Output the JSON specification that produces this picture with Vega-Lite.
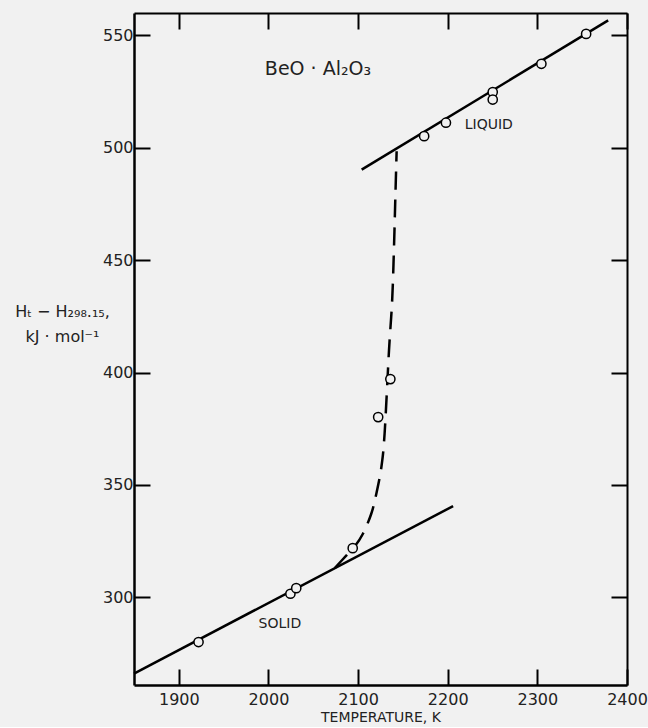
{
  "$schema": "https://vega.github.io/schema/vega-lite/v6.json",
  "width": 493,
  "height": 672,
  "padding": {"left": 14, "top": 12, "right": 2, "bottom": 3},
  "background": "#f1f1f1",
  "config": {"view": {"stroke": null}, "font": "DejaVu Sans"},
  "datasets": {
    "lines": [
      {"series": "solid", "T": 1850, "H": 266.1},
      {"series": "solid", "T": 2206, "H": 340.6},
      {"series": "liquid", "T": 2104, "H": 490.3},
      {"series": "liquid", "T": 2379, "H": 556.7}
    ],
    "dash": [
      {"i": 1, "T": 2074, "H": 313},
      {"i": 2, "T": 2087, "H": 318.7},
      {"i": 3, "T": 2096, "H": 322.5},
      {"i": 4, "T": 2105.4, "H": 328.3},
      {"i": 5, "T": 2114.7, "H": 337.2},
      {"i": 6, "T": 2120.3, "H": 346},
      {"i": 7, "T": 2126, "H": 358},
      {"i": 8, "T": 2129.6, "H": 373},
      {"i": 9, "T": 2134.5, "H": 410},
      {"i": 10, "T": 2138, "H": 432},
      {"i": 11, "T": 2140, "H": 455},
      {"i": 12, "T": 2141.5, "H": 477},
      {"i": 13, "T": 2143, "H": 498.5}
    ],
    "pts": [
      {"T": 1922, "H": 280.1},
      {"T": 2024.5, "H": 301.6},
      {"T": 2031, "H": 304.1},
      {"T": 2094, "H": 321.9},
      {"T": 2122.4, "H": 380.2},
      {"T": 2136, "H": 397.1},
      {"T": 2173.7, "H": 505.2},
      {"T": 2198, "H": 511.2},
      {"T": 2250.2, "H": 524.8},
      {"T": 2250.2, "H": 521.5},
      {"T": 2304.5, "H": 537.4},
      {"T": 2354.4, "H": 550.7}
    ],
    "labels": [
      {"T": 2219, "H": 510, "text": "LIQUID"},
      {"T": 1989, "H": 288.3, "text": "SOLID"}
    ],
    "title": [
      {"T": 1996, "H": 535.3, "text": "BeO · Al₂O₃"}
    ]
  },
  "layer": [
    {
      "data": {"name": "lines"},
      "mark": {"type": "line", "color": "black", "strokeWidth": 2.5},
      "encoding": {
        "x": {
          "field": "T", "type": "quantitative",
          "scale": {"domain": [1850, 2400], "nice": false, "zero": false},
          "axis": {
            "orient": "bottom",
            "values": [1900, 2000, 2100, 2200, 2300, 2400],
            "format": "d",
            "grid": false,
            "domainColor": "black", "domainWidth": 2.5,
            "tickColor": "black", "tickWidth": 2, "tickSize": -16,
            "labelPadding": 22, "labelFontSize": 16, "labelColor": "#222",
            "labelFlush": false,
            "title": "TEMPERATURE, K",
            "titleFontSize": 14, "titleFontWeight": "normal", "titleColor": "#222",
            "titlePadding": 3
          }
        },
        "y": {
          "field": "H", "type": "quantitative",
          "scale": {"domain": [261, 560], "nice": false, "zero": false},
          "axis": {
            "orient": "left",
            "values": [300, 350, 400, 450, 500, 550],
            "grid": false,
            "domainColor": "black", "domainWidth": 2.5,
            "tickColor": "black", "tickWidth": 2, "tickSize": -16,
            "labelPadding": 17, "labelFontSize": 16, "labelColor": "#222",
            "labelFlush": false,
            "title": ["Hₜ − H₂₉₈.₁₅,", "kJ · mol⁻¹"],
            "titleAngle": 0, "titleAlign": "center", "titleBaseline": "top",
            "titleX": -72, "titleY": 290, "titleLineHeight": 25,
            "titleFontSize": 16, "titleFontWeight": "normal", "titleColor": "#222"
          }
        },
        "detail": {"field": "series"}
      }
    },
    {
      "data": {"name": "dash"},
      "mark": {"type": "line", "color": "black", "strokeWidth": 2.5, "strokeDash": [18, 10], "interpolate": "cardinal"},
      "encoding": {
        "x": {
          "field": "T", "type": "quantitative",
          "axis": {
            "orient": "top",
            "values": [1900, 2000, 2100, 2200, 2300, 2400],
            "grid": false, "labels": false, "title": null,
            "domainColor": "black", "domainWidth": 2,
            "tickColor": "black", "tickWidth": 2, "tickSize": -16
          }
        },
        "y": {
          "field": "H", "type": "quantitative",
          "axis": {
            "orient": "right",
            "values": [300, 350, 400, 450, 500, 550],
            "grid": false, "labels": false, "title": null,
            "domainColor": "black", "domainWidth": 2,
            "tickColor": "black", "tickWidth": 2, "tickSize": -16
          }
        },
        "order": {"field": "i", "type": "quantitative"}
      }
    },
    {
      "data": {"name": "pts"},
      "mark": {"type": "point", "shape": "circle", "filled": true, "fill": "#f1f1f1", "stroke": "black", "strokeWidth": 1.5, "size": 85, "opacity": 1},
      "encoding": {
        "x": {"field": "T", "type": "quantitative", "axis": null},
        "y": {"field": "H", "type": "quantitative", "axis": null}
      }
    },
    {
      "data": {"name": "labels"},
      "mark": {"type": "text", "align": "left", "baseline": "middle", "fontSize": 14, "color": "#222"},
      "encoding": {
        "x": {"field": "T", "type": "quantitative", "axis": null},
        "y": {"field": "H", "type": "quantitative", "axis": null},
        "text": {"field": "text"}
      }
    },
    {
      "data": {"name": "title"},
      "mark": {"type": "text", "align": "left", "baseline": "middle", "fontSize": 19, "color": "#222"},
      "encoding": {
        "x": {"field": "T", "type": "quantitative", "axis": null},
        "y": {"field": "H", "type": "quantitative", "axis": null},
        "text": {"field": "text"}
      }
    }
  ],
  "resolve": {"axis": {"x": "independent", "y": "independent"}}
}
